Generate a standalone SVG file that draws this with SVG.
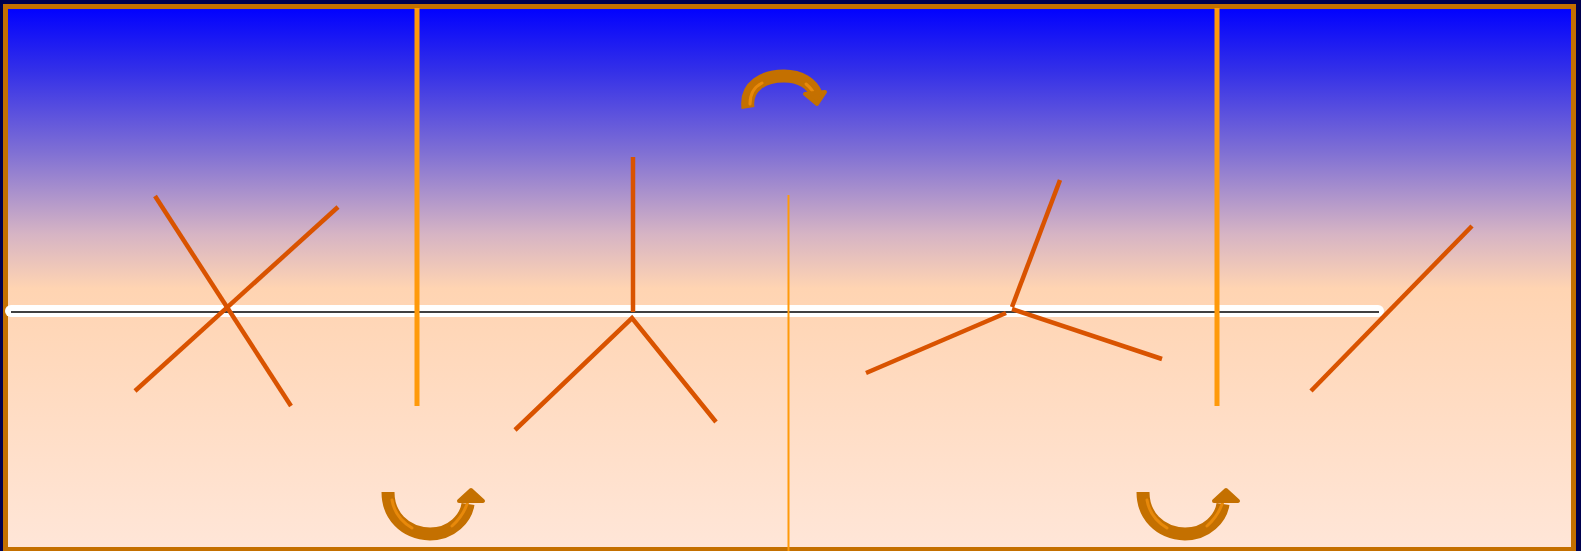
<svg xmlns="http://www.w3.org/2000/svg" width="1581" height="551" viewBox="0 0 1581 551">
  <defs>
    <linearGradient id="sky" x1="0" y1="6" x2="0" y2="549" gradientUnits="userSpaceOnUse">
      <stop offset="0" stop-color="#0000ff"/>
      <stop offset="0.12" stop-color="#3430e8"/>
      <stop offset="0.27" stop-color="#8070d4"/>
      <stop offset="0.42" stop-color="#d6b4c4"/>
      <stop offset="0.52" stop-color="#ffd4b2"/>
      <stop offset="1" stop-color="#ffe6d8"/>
    </linearGradient>
    <style>
      .rod { stroke: #d95300; stroke-width: 4.5; fill: none; }
      .post { stroke: #ff9a0a; stroke-width: 5; fill: none; }
      .arcBody { stroke: #c47000; stroke-width: 13; fill: none; stroke-linecap: butt; }
      .arcHi { stroke: #e8890a; stroke-width: 3; fill: none; stroke-linecap: round; }
      .head { fill: #c47000; stroke: #c47000; stroke-width: 4; stroke-linejoin: round; }
      .headHi { fill: #ff9a00; }
    </style>
  </defs>
  <rect x="0" y="0" width="1581" height="551" fill="#00004e"/>
  <rect id="frame" x="5.5" y="6.5" width="1568" height="543" fill="url(#sky)" stroke="#c47000" stroke-width="5"/>

  <g id="ground">
    <line x1="11" y1="311" x2="1378" y2="311" stroke="#ffffff" stroke-width="12" stroke-linecap="round"/>
    <line x1="11" y1="312" x2="1379" y2="312" stroke="#000000" stroke-width="1.6"/>
  </g>

  <g id="posts">
    <line class="post" x1="417" y1="8" x2="417" y2="406"/>
    <line class="post" x1="1217" y1="8" x2="1217" y2="406"/>
    <line x1="788.5" y1="195" x2="788.5" y2="551" stroke="#ff9a0a" stroke-width="2"/>
  </g>

  <g id="cross-left">
    <line class="rod" x1="155" y1="196" x2="291" y2="406"/>
    <line class="rod" x1="338" y1="207" x2="135" y2="391"/>
  </g>

  <g id="junction-center">
    <line class="rod" x1="633" y1="157" x2="633" y2="312"/>
    <polyline class="rod" points="515,430 632,318 716,422"/>
  </g>

  <g id="junction-right">
    <line class="rod" x1="1060" y1="180" x2="1012" y2="307"/>
    <line class="rod" x1="866" y1="373" x2="1006" y2="313"/>
    <line class="rod" x1="1012" y1="309" x2="1162" y2="359"/>
  </g>

  <g id="slash-right">
    <line class="rod" x1="1472" y1="226" x2="1311" y2="391"/>
  </g>

  <g id="arrow-top">
    <path class="arcBody" d="M748,108 C745,86 764,76 784,76 C801,76 812,84 816,94"/>
    <path class="arcHi" d="M750,104 C750,92 756,86 762,83"/>
    <path class="arcHi" d="M806,84 C811,88 814,92 816,98"/>
    <polygon class="head" points="805,94 825,92 817,104"/>
  </g>

  <g id="arrow-bottom-left">
    <path class="arcBody" d="M388,492 C388,515 404,533 430,534 C452,534 466,518 468,504"/>
    <path class="arcHi" d="M392,500 C394,512 402,522 412,528"/>
    <path class="arcHi" d="M452,526 C461,518 466,510 469,498"/>
    <polygon class="head" points="459,501 471,490 483,501"/>
  </g>

  <g id="arrow-bottom-right">
    <path class="arcBody" d="M1143,492 C1143,515 1159,533 1185,534 C1207,534 1221,518 1223,504"/>
    <path class="arcHi" d="M1147,500 C1149,512 1157,522 1167,528"/>
    <path class="arcHi" d="M1207,526 C1216,518 1221,510 1224,498"/>
    <polygon class="head" points="1214,501 1226,490 1238,501"/>
  </g>
</svg>
